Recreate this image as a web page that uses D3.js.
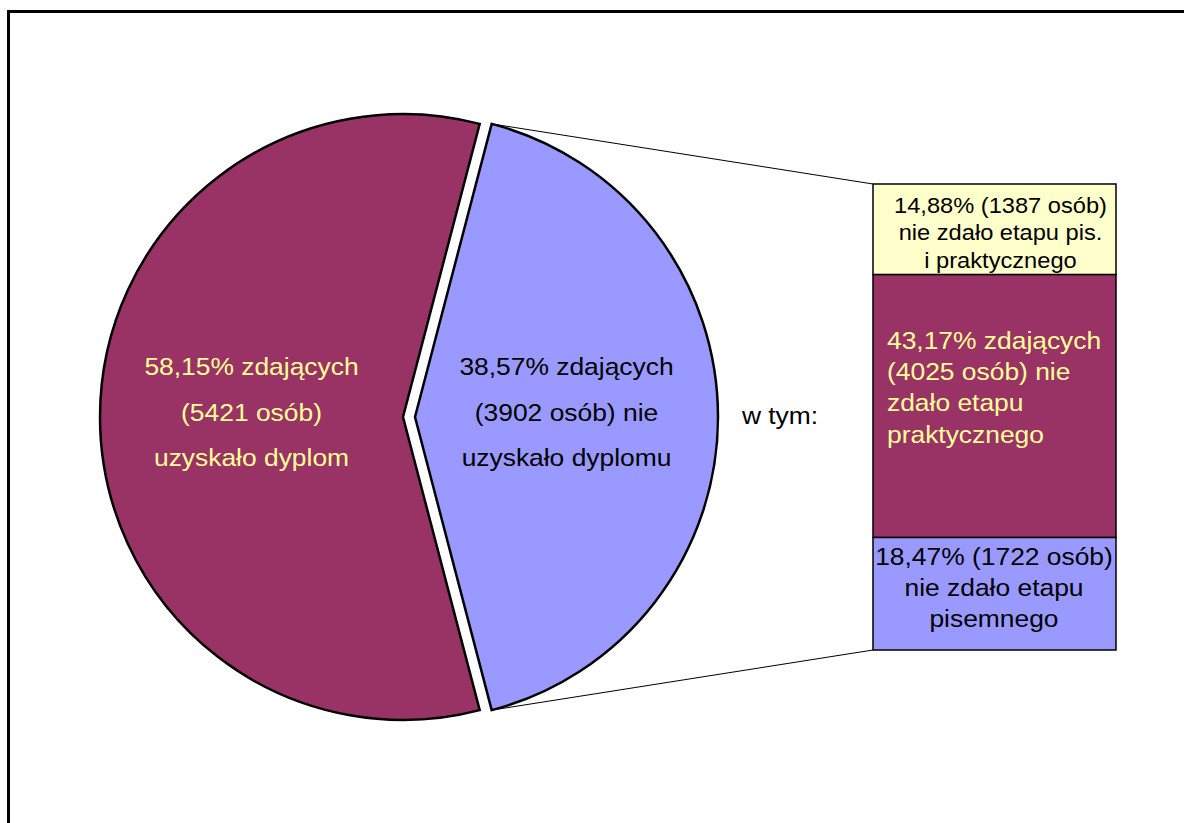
<!DOCTYPE html>
<html>
<head>
<meta charset="utf-8">
<script src="https://cdn.jsdelivr.net/npm/d3@7"></script>
<style>
  body { margin: 0; background: #fff; }
  text { font-family: "Liberation Sans", Arial, sans-serif; }
</style>
</head>
<body>
<svg id="chart" width="1184" height="823"></svg>
<script>
// pie: who got the diploma vs who didn't
const pieNames = ['nie uzyskało', 'uzyskało'];
const pieCounts = [3902, 5421];
const pieColors = ['#9999FF', '#993366'];
const pieTextColors = ['#000000', '#FFFF99'];
const pieLabels = [
  ['38,57% zdających', '(3902 osób) nie', 'uzyskało dyplomu'],
  ['58,15% zdających', '(5421 osób)', 'uzyskało dyplom']
];

// bar: breakdown of the ones who didn't (top to bottom)
const barCounts = [1387, 4025, 1722];
const barColors = ['#FFFFCC', '#993366', '#9999FF'];
const barTextColors = ['#000000', '#FFFF99', '#000000'];
const barLabels = [
  ['14,88% (1387 osób)', 'nie zdało etapu pis.', 'i praktycznego'],
  ['43,17% zdających', '(4025 osób) nie', 'zdało etapu', 'praktycznego'],
  ['18,47% (1722 osób)', 'nie zdało etapu', 'pisemnego']
];

const svg = d3.select('#chart');
const STRETCH = 1.1; // the original text is a bit wider than plain Arial

// multi-line label; x,y = anchor point and vertical centre of the block
function label(parent, lines, x, y, opt) {
  const n = lines.length;
  const t = parent.append('text')
    .attr('transform', `translate(${x},${y}) scale(${STRETCH},1)`)
    .attr('text-anchor', opt.anchor || 'middle')
    .attr('fill', opt.color)
    .attr('font-size', opt.size);
  t.selectAll('tspan')
    .data(lines)
    .enter()
    .append('tspan')
    .attr('x', 0)
    .attr('y', (d, j) => (j - (n - 1) / 2) * opt.lh + opt.size * 0.36)
    .text(d => d);
  return t;
}

// outer frame (right/bottom run off the picture)
svg.append('rect')
  .attr('x', 8.5).attr('y', 11.5)
  .attr('width', 1200).attr('height', 900)
  .attr('fill', 'none').attr('stroke', '#000').attr('stroke-width', 3);

const cx = 403, cy = 417, r = 303, explode = 12;
const blueSpan = pieCounts[0] / d3.sum(pieCounts) * 2 * Math.PI;
const pie = d3.pie().sort(null).value(d => d)
  .startAngle(Math.PI / 2 - blueSpan / 2)
  .endAngle(Math.PI / 2 - blueSpan / 2 + 2 * Math.PI);
const arcs = pie(pieCounts);
const arc = d3.arc().innerRadius(0).outerRadius(r);

const gPie = svg.append('g');
const slices = gPie.selectAll('g.slice')
  .data(arcs)
  .enter()
  .append('g')
  .attr('class', 'slice')
  .attr('transform', (d, i) => {
    const mid = (d.startAngle + d.endAngle) / 2;
    const off = i === 0 ? explode : 0;
    return `translate(${cx + off * Math.sin(mid)},${cy - off * Math.cos(mid)})`;
  });

slices.append('path')
  .attr('d', arc)
  .attr('fill', (d, i) => pieColors[i])
  .attr('stroke', '#000')
  .attr('stroke-width', 2.5)
  .attr('stroke-linejoin', 'miter');

slices.each(function (d, i) {
  const c = arc.centroid(d);
  label(d3.select(this), pieLabels[i], c[0], c[1] - 5,
    { color: pieTextColors[i], size: 24, lh: 45.5 });
});

// bar of the blue slice
const bx = 873, bw = 243;
const y = d3.scaleLinear().domain([0, d3.sum(barCounts)]).range([184, 650]);
const cum = d3.cumsum([0, ...barCounts]);

const gBar = svg.append('g');
gBar.selectAll('rect')
  .data(barCounts)
  .enter()
  .append('rect')
  .attr('x', bx)
  .attr('y', (d, i) => y(cum[i]))
  .attr('width', bw)
  .attr('height', d => y(d) - y(0))
  .attr('fill', (d, i) => barColors[i])
  .attr('stroke', '#000')
  .attr('stroke-width', 1.5);

// text boxes as Excel placed them
const barText = [
  { anchor: 'middle', dx: bw / 2 + 6, dy: 3, size: 21.5, lh: 27.5 },
  { anchor: 'start', dx: 14, dy: -19, size: 24, lh: 31.3 },
  { anchor: 'middle', dx: bw / 2 - 0.5, dy: -6, size: 24, lh: 31 }
];
barCounts.forEach((c, i) => {
  const midY = (y(cum[i]) + y(cum[i + 1])) / 2;
  const o = barText[i];
  label(gBar, barLabels[i], bx + o.dx, midY + o.dy,
    { anchor: o.anchor, color: barTextColors[i], size: o.size, lh: o.lh });
});

// connector lines from the exploded slice to the bar
const blue = arcs[0];
const bmid = (blue.startAngle + blue.endAngle) / 2;
const bcx = cx + explode * Math.sin(bmid), bcy = cy - explode * Math.cos(bmid);
const pt = a => [bcx + r * Math.sin(a), bcy - r * Math.cos(a)];
const p1 = pt(blue.startAngle), p2 = pt(blue.endAngle);
svg.append('line')
  .attr('x1', p1[0]).attr('y1', p1[1]).attr('x2', bx).attr('y2', y(0))
  .attr('stroke', '#000').attr('stroke-width', 1);
svg.append('line')
  .attr('x1', p2[0]).attr('y1', p2[1]).attr('x2', bx).attr('y2', y(d3.sum(barCounts)))
  .attr('stroke', '#000').attr('stroke-width', 1);

label(svg, ['w tym:'], 780, 415, { color: '#000', size: 24, lh: 0 });
</script>
</body>
</html>
